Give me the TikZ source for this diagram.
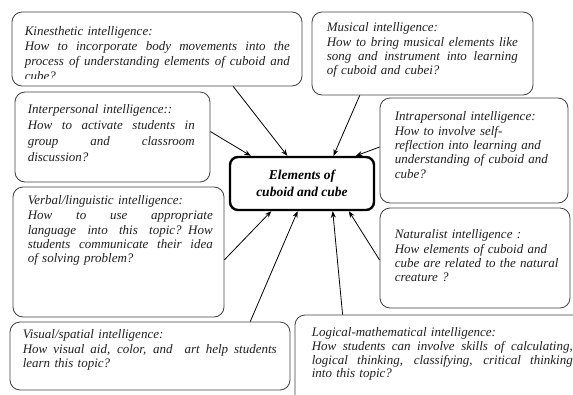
\documentclass[tikz,border=0pt]{standalone}
\usepackage{fontspec}
\setmainfont{Liberation Serif}
\usetikzlibrary{calc,arrows.meta}
\newcommand\jl[2]{\makebox[#1][s]{\spaceskip=0.25em plus 1fil minus 0.12em\relax #2}}
\begin{document}
\begin{tikzpicture}[x=1pt,y=-1pt,
  box/.style={draw=black!75,line width=0.8pt,rounded corners=10pt,inner sep=0pt},
  hub/.style={draw=black,line width=2.4pt,rounded corners=8pt,inner sep=0pt,
    font=\fontsize{13.5}{17}\selectfont\bfseries\itshape,align=center},
  txt/.style={inner sep=0pt,anchor=north west,text=black!88,
    font=\fontsize{13}{14.3}\selectfont\itshape},
  arr/.style={line width=0.8pt,-{Stealth[length=6.5pt,width=5pt]}}]
\useasboundingbox (0,0) rectangle (573,394);
% boxes
\node[box,minimum width=290pt,minimum height=74pt] (kin) at (157,49) {};
\node[box,minimum width=221pt,minimum height=83pt] (mus) at (422.5,53.5) {};
\node[box,minimum width=195pt,minimum height=90pt] (inter) at (112.5,137) {};
\node[box,minimum width=188pt,minimum height=105pt] (intra) at (474,150.5) {};
\node[hub,minimum width=144pt,minimum height=53pt] (hubn) at (302,183.5) {Elements of\\cuboid and cube};
\node[box,minimum width=211pt,minimum height=130pt] (verb) at (118.5,252) {};
\node[box,minimum width=190pt,minimum height=100pt] (nat) at (475,258) {};
\node[box,minimum width=280pt,minimum height=68pt] (vis) at (150,356) {};
\node[box,minimum width=305pt,minimum height=95pt] (logi) at (447.5,362.5) {};
% texts
\begin{scope}
\clip (kin.north west) rectangle ($(kin.south east)+(0,-8)$);
\node[txt,text width=265pt,font=\fontsize{13}{14.8}\selectfont\itshape] (kint) at ($(kin.north west)+(13,15)$)
 {Kinesthetic intelligence:\\\jl{265pt}{How to incorporate body movements into the}\\\jl{265pt}{process of understanding elements of cuboid and}\\cube?};
\end{scope}
\node[txt,text width=191pt] (must) at ($(mus.north west)+(15,11)$)
 {Musical intelligence:\\\jl{191pt}{How to bring musical elements like}\\\jl{191pt}{song and instrument into learning}\\of cuboid and cubei?};
\node[txt,text width=167pt,font=\fontsize{13}{15.8}\selectfont\itshape] (intert) at ($(inter.north west)+(13,13)$)
 {Interpersonal intelligence::\\\jl{167pt}{How to activate students in}\\\jl{167pt}{group and classroom}\\discussion?};
\node[txt,text width=170pt] (intrat) at ($(intra.north west)+(15,14)$)
 {Intrapersonal intelligence:\\How to involve self-\\reflection into learning and\\understanding of cuboid and\\cube?};
\node[txt,text width=185pt] (verbt) at ($(verb.north west)+(15,9)$)
 {Verbal/linguistic intelligence:\\[0.7pt]\jl{185pt}{How to use appropriate}\\\jl{185pt}{language into this topic? How}\\\jl{185pt}{students communicate their idea}\\of solving problem?};
\node[txt,text width=170pt] (natt) at ($(nat.north west)+(15,22)$)
 {Naturalist intelligence :\\How elements of cuboid and\\cube are related to the natural\\creature ?};
\node[txt,text width=256pt] (vist) at ($(vis.north west)+(13,8)$)
 {Visual/spatial intelligence:\\\jl{254pt}{How visual aid, color, and\ \ art help students}\\learn this topic?};
\node[txt,text width=261pt,font=\fontsize{13}{13.6}\selectfont\itshape] (logt) at ($(logi.north west)+(17,13)$)
 {Logical-mathematical intelligence:\\\jl{261pt}{How students can involve skills of calculating,}\\\jl{261pt}{logical thinking, classifying, critical thinking}\\into this topic?};
% arrows
\draw[arr] ($(kin.south west)!0.762!(kin.south east)$) -- ($(hubn.north west)!0.40!(hubn.north east)$);
\draw[arr] ($(inter.north east)!0.44!(inter.south east)$) -- ($(hubn.north west)!0.15!(hubn.north east)$);
\draw[arr] ($(mus.south west)!0.217!(mus.south east)$) -- ($(hubn.north west)!0.715!(hubn.north east)$);
\draw[arr] ($(intra.north west)!0.467!(intra.south west)$) -- ($(hubn.north west)!0.868!(hubn.north east)$);
\draw[arr] ($(verb.north east)!0.56!(verb.south east)$) -- ($(hubn.south west)!0.29!(hubn.south east)$);
\draw[arr] ($(vis.north west)!0.857!(vis.north east)$) -- ($(hubn.south west)!0.47!(hubn.south east)$);
\draw[arr] ($(logi.north west)!0.157!(logi.north east)$) -- ($(hubn.south west)!0.71!(hubn.south east)$);
\draw[arr] ($(nat.north west)!0.52!(nat.south west)$) -- ($(hubn.south west)!0.82!(hubn.south east)$);
\end{tikzpicture}
\end{document}
